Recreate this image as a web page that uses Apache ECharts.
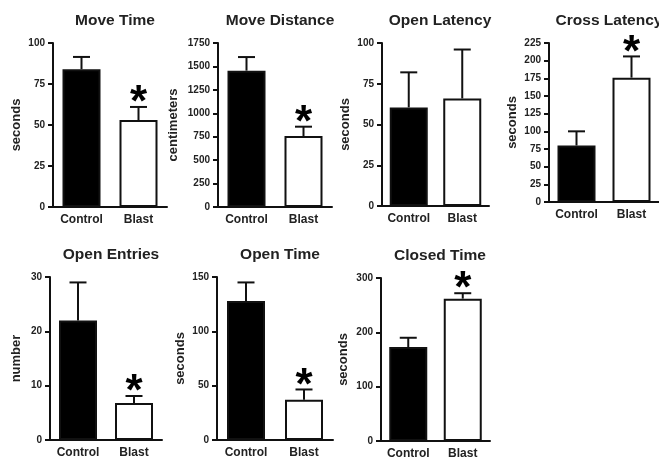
<!DOCTYPE html>
<html>
<head>
<meta charset="utf-8">
<script src="https://cdn.jsdelivr.net/npm/echarts@6/dist/echarts.min.js"></script>
<style>
  html, body { margin: 0; padding: 0; background: #fff; }
  #chart { width: 659px; height: 461px; }
</style>
</head>
<body>
<div id="chart"></div>
<script>
// Behavioural measures, Control vs Blast (mean + SEM)
const titles = ['Move Time', 'Move Distance', 'Open Latency', 'Cross Latency', 'Open Entries', 'Open Time', 'Closed Time'];
const yNames = ['seconds', 'centimeters', 'seconds', 'seconds', 'number', 'seconds', 'seconds'];
const groups = ['Control', 'Blast'];
const controlMean = [84, 1455, 60.5, 80, 22, 128, 173];
const controlErr = [7.5, 145, 21.5, 20, 7, 17, 17];
const blastMean = [53, 757, 66, 176, 6.8, 37, 262];
const blastErr = [8, 100, 30, 30, 1.3, 9.5, 10];
// true where Blast differs significantly from Control (asterisk)
const significant = [true, true, false, true, true, true, true];
const axisMax = [100, 1750, 100, 225, 30, 150, 300];
const axisStep = [25, 250, 25, 25, 10, 50, 100];

// Panel placement (pixels): y-axis x position, plot top/bottom, plot width,
// y-name gap and title centre
const layout = [
  { left: 53,  top: 43,  bottom: 207, width: 114, nameGap: 30, titleX: 110 },
  { left: 218, top: 43,  bottom: 207, width: 114, nameGap: 38, titleX: 275 },
  { left: 382, top: 43,  bottom: 206, width: 107, nameGap: 30, titleX: 435 },
  { left: 549, top: 43,  bottom: 202, width: 114, nameGap: 30, titleX: 604 },
  { left: 50,  top: 277, bottom: 440, width: 112, nameGap: 27, titleX: 106 },
  { left: 217, top: 277, bottom: 440, width: 116, nameGap: 30, titleX: 275 },
  { left: 381, top: 278, bottom: 441, width: 109, nameGap: 31, titleX: 435 }
];

const FONT = 'Liberation Sans, Arial, sans-serif';
const TEXT = '#222';
const INK = '#111';

const chart = echarts.init(document.getElementById('chart'), null, { renderer: 'canvas' });

const grid = [], xAxis = [], yAxis = [], title = [], series = [];

titles.forEach((name, i) => {
  const L = layout[i];
  grid.push({ left: L.left, top: L.top, width: L.width, height: L.bottom - L.top, containLabel: false });

  title.push({
    text: name,
    left: L.titleX,
    top: L.top - 35,
    textAlign: 'center',
    textStyle: { fontFamily: FONT, fontWeight: 'bold', fontSize: 15.5, color: TEXT }
  });

  xAxis.push({
    type: 'category',
    gridIndex: i,
    data: groups,
    axisLine: { lineStyle: { color: INK, width: 2 } },
    axisTick: { alignWithLabel: true, length: 4, lineStyle: { color: INK, width: 2 } },
    axisLabel: { interval: 0, fontFamily: FONT, fontWeight: 'bold', fontSize: 12, color: TEXT, margin: 7 }
  });

  yAxis.push({
    type: 'value',
    gridIndex: i,
    min: 0,
    max: axisMax[i],
    interval: axisStep[i],
    splitLine: { show: false },
    axisLine: { show: true, lineStyle: { color: INK, width: 2 } },
    axisTick: { show: true, length: 5, lineStyle: { color: INK, width: 2 } },
    axisLabel: {
      fontFamily: FONT, fontWeight: 'bold', fontSize: 10, color: TEXT, margin: 8,
      formatter: v => String(v)
    },
    name: yNames[i],
    nameLocation: 'middle',
    nameGap: L.nameGap,
    nameTextStyle: { fontFamily: FONT, fontWeight: 'bold', fontSize: 13, color: TEXT }
  });

  series.push({
    type: 'bar',
    xAxisIndex: i,
    yAxisIndex: i,
    barWidth: 38,
    silent: true,
    data: [
      { value: controlMean[i], itemStyle: { color: '#000', borderColor: INK, borderWidth: 2 } },
      { value: blastMean[i], itemStyle: { color: '#fff', borderColor: INK, borderWidth: 2 } }
    ]
  });

  // upward SEM whisker with a cap
  series.push({
    type: 'custom',
    xAxisIndex: i,
    yAxisIndex: i,
    silent: true,
    z: 5,
    data: [[0, controlMean[i], controlErr[i]], [1, blastMean[i], blastErr[i]]],
    encode: { x: 0, y: 1 },
    renderItem: (params, api) => {
      const x = api.value(0), m = api.value(1), e = api.value(2);
      const p0 = api.coord([x, m]);
      const p1 = api.coord([x, m + e]);
      const style = { stroke: INK, lineWidth: 2 };
      return {
        type: 'group',
        children: [
          { type: 'line', shape: { x1: p0[0], y1: p0[1], x2: p1[0], y2: p1[1] }, style },
          { type: 'line', shape: { x1: p1[0] - 8.5, y1: p1[1], x2: p1[0] + 8.5, y2: p1[1] }, style }
        ]
      };
    }
  });

  if (significant[i]) {
    series.push({
      type: 'custom',
      xAxisIndex: i,
      yAxisIndex: i,
      silent: true,
      z: 6,
      data: [[1, blastMean[i] + blastErr[i]]],
      encode: { x: 0, y: 1 },
      renderItem: (params, api) => {
        const p = api.coord([api.value(0), api.value(1)]);
        return {
          type: 'text',
          x: p[0],
          y: p[1] + 19,
          style: {
            text: '*',
            font: 'bold 44px ' + FONT,
            fill: '#000',
            textAlign: 'center',
            textVerticalAlign: 'bottom'
          }
        };
      }
    });
  }
});

chart.setOption({
  animation: false,
  backgroundColor: '#fff',
  title, grid, xAxis, yAxis, series
});
</script>
</body>
</html>
